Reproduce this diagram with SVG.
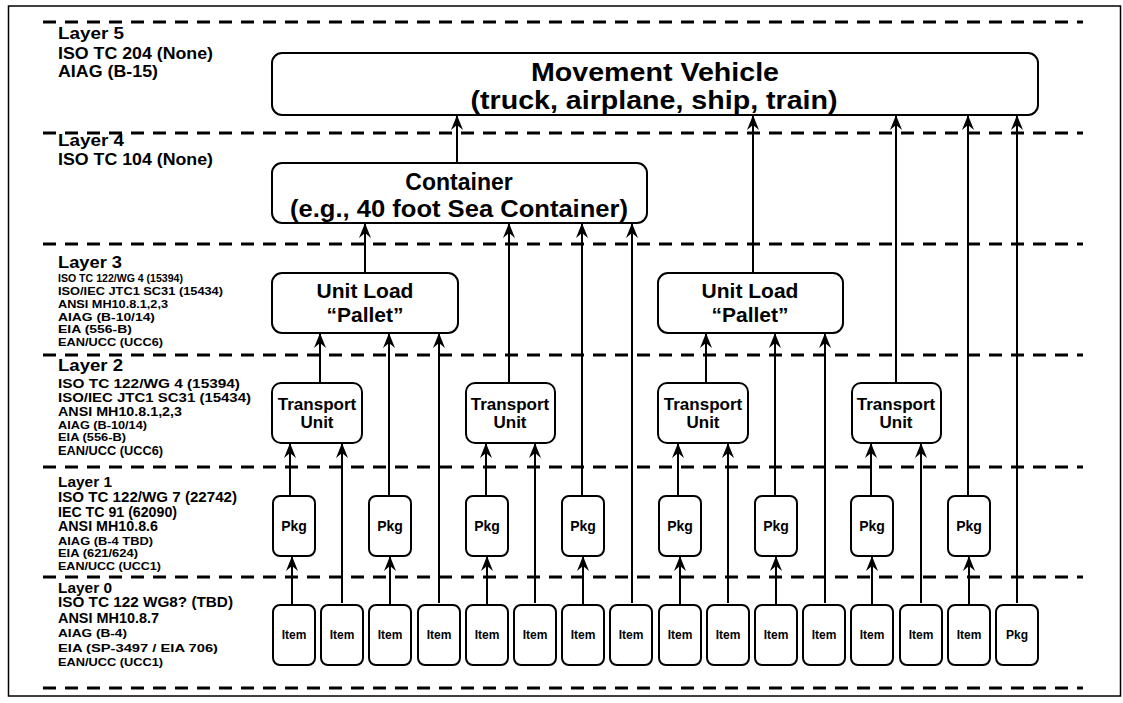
<svg xmlns="http://www.w3.org/2000/svg" width="1123" height="703" viewBox="0 0 1123 703">
<defs>
<marker id="ah" viewBox="-16 -7 17 14" refX="0" refY="0" markerWidth="17" markerHeight="14" markerUnits="userSpaceOnUse" orient="auto">
<path d="M0,0 L-15,-6 L-10,0 L-15,6 Z" fill="#000"/>
</marker>
<style>
text{font-family:"Liberation Sans",Arial,Helvetica,sans-serif;font-weight:bold;fill:#000}
.lbl{text-anchor:start}
.c{text-anchor:middle}
.box{fill:#fff;stroke:#000;stroke-width:2}
.dash{stroke:#000;stroke-width:3;stroke-dasharray:13 9;fill:none}
.con{stroke:#000;stroke-width:2;fill:none;marker-end:url(#ah)}
</style>
</defs>
<rect x="0" y="0" width="1123" height="703" fill="#fff"/>
<rect x="8.5" y="6" width="1112" height="690" fill="none" stroke="#000" stroke-width="1.5"/>

<g id="layer-lines">
<line class="dash" x1="43" y1="22" x2="1083" y2="22"/>
<line class="dash" x1="43" y1="133" x2="1083" y2="133"/>
<line class="dash" x1="43" y1="244" x2="1083" y2="244"/>
<line class="dash" x1="43" y1="355" x2="1083" y2="355"/>
<line class="dash" x1="43" y1="467" x2="1083" y2="467"/>
<line class="dash" x1="43" y1="577" x2="1083" y2="577"/>
<line class="dash" x1="43" y1="688" x2="1083" y2="688"/>
</g>

<g id="layer-labels" class="lbl">
<text x="58" y="39" font-size="17" textLength="66" lengthAdjust="spacingAndGlyphs">Layer 5</text>
<text x="58" y="59" font-size="17" textLength="155" lengthAdjust="spacingAndGlyphs">ISO TC 204 (None)</text>
<text x="58" y="77" font-size="17" textLength="100" lengthAdjust="spacingAndGlyphs">AIAG (B-15)</text>

<text x="58" y="146" font-size="17" textLength="66" lengthAdjust="spacingAndGlyphs">Layer 4</text>
<text x="58" y="165" font-size="17" textLength="155" lengthAdjust="spacingAndGlyphs">ISO TC 104 (None)</text>

<text x="58" y="268" font-size="17" textLength="64" lengthAdjust="spacingAndGlyphs">Layer 3</text>
<text x="58" y="282" font-size="11" textLength="125" lengthAdjust="spacingAndGlyphs">ISO TC 122/WG 4 (15394)</text>
<text x="58" y="295" font-size="11" textLength="165" lengthAdjust="spacingAndGlyphs">ISO/IEC JTC1 SC31 (15434)</text>
<text x="58" y="308" font-size="11" textLength="110" lengthAdjust="spacingAndGlyphs">ANSI MH10.8.1,2,3</text>
<text x="58" y="321" font-size="11" textLength="97" lengthAdjust="spacingAndGlyphs">AIAG (B-10/14)</text>
<text x="58" y="333" font-size="11" textLength="74" lengthAdjust="spacingAndGlyphs">EIA (556-B)</text>
<text x="58" y="346" font-size="11" textLength="105" lengthAdjust="spacingAndGlyphs">EAN/UCC (UCC6)</text>

<text x="58" y="371" font-size="17" textLength="65" lengthAdjust="spacingAndGlyphs">Layer 2</text>
<text x="58" y="388" font-size="13" textLength="182" lengthAdjust="spacingAndGlyphs">ISO TC 122/WG 4 (15394)</text>
<text x="58" y="402" font-size="13" textLength="193" lengthAdjust="spacingAndGlyphs">ISO/IEC JTC1 SC31 (15434)</text>
<text x="58" y="416" font-size="13" textLength="124" lengthAdjust="spacingAndGlyphs">ANSI MH10.8.1,2,3</text>
<text x="58" y="429" font-size="11" textLength="89" lengthAdjust="spacingAndGlyphs">AIAG (B-10/14)</text>
<text x="58" y="441" font-size="11" textLength="68" lengthAdjust="spacingAndGlyphs">EIA (556-B)</text>
<text x="58" y="455" font-size="12" textLength="105" lengthAdjust="spacingAndGlyphs">EAN/UCC (UCC6)</text>

<text x="58" y="487" font-size="15" textLength="54" lengthAdjust="spacingAndGlyphs">Layer 1</text>
<text x="58" y="502" font-size="14" textLength="179" lengthAdjust="spacingAndGlyphs">ISO TC 122/WG 7 (22742)</text>
<text x="58" y="517" font-size="14" textLength="119" lengthAdjust="spacingAndGlyphs">IEC TC 91 (62090)</text>
<text x="58" y="531" font-size="14" textLength="100" lengthAdjust="spacingAndGlyphs">ANSI MH10.8.6</text>
<text x="58" y="545" font-size="11" textLength="95" lengthAdjust="spacingAndGlyphs">AIAG (B-4 TBD)</text>
<text x="58" y="557" font-size="11" textLength="80" lengthAdjust="spacingAndGlyphs">EIA (621/624)</text>
<text x="58" y="570" font-size="11.5" textLength="103" lengthAdjust="spacingAndGlyphs">EAN/UCC (UCC1)</text>

<text x="58" y="593" font-size="15" textLength="54" lengthAdjust="spacingAndGlyphs">Layer 0</text>
<text x="58" y="607" font-size="14" textLength="175" lengthAdjust="spacingAndGlyphs">ISO TC 122 WG8? (TBD)</text>
<text x="58" y="623" font-size="14" textLength="101" lengthAdjust="spacingAndGlyphs">ANSI MH10.8.7</text>
<text x="58" y="637" font-size="11" textLength="69" lengthAdjust="spacingAndGlyphs">AIAG (B-4)</text>
<text x="58" y="652" font-size="11.5" textLength="160" lengthAdjust="spacingAndGlyphs">EIA (SP-3497 / EIA 706)</text>
<text x="58" y="666" font-size="11.5" textLength="105" lengthAdjust="spacingAndGlyphs">EAN/UCC (UCC1)</text>
</g>

<g id="connectors">
<line class="con" x1="457" y1="163" x2="457" y2="115"/>
<line class="con" x1="365" y1="273" x2="365" y2="223"/>
<line class="con" x1="753" y1="273" x2="753" y2="115"/>
<line class="con" x1="320" y1="383" x2="320" y2="333"/>
<line class="con" x1="509" y1="383" x2="509" y2="223"/>
<line class="con" x1="706" y1="383" x2="706" y2="333"/>
<line class="con" x1="896" y1="383" x2="896" y2="115"/>
<line class="con" x1="290" y1="496" x2="290" y2="443"/>
<line class="con" x1="389" y1="496" x2="389" y2="333"/>
<line class="con" x1="486" y1="496" x2="486" y2="443"/>
<line class="con" x1="582" y1="496" x2="582" y2="223"/>
<line class="con" x1="678" y1="496" x2="678" y2="443"/>
<line class="con" x1="775" y1="496" x2="775" y2="333"/>
<line class="con" x1="871" y1="496" x2="871" y2="443"/>
<line class="con" x1="968" y1="496" x2="968" y2="115"/>
<line class="con" x1="342" y1="603" x2="342" y2="443"/>
<line class="con" x1="439" y1="603" x2="439" y2="333"/>
<line class="con" x1="535" y1="603" x2="535" y2="443"/>
<line class="con" x1="632" y1="603" x2="632" y2="223"/>
<line class="con" x1="728" y1="603" x2="728" y2="443"/>
<line class="con" x1="825" y1="603" x2="825" y2="333"/>
<line class="con" x1="921" y1="603" x2="921" y2="443"/>
<line class="con" x1="1017" y1="603" x2="1017" y2="115"/>
<line class="con" x1="292" y1="605" x2="292" y2="556"/>
<line class="con" x1="390" y1="605" x2="390" y2="556"/>
<line class="con" x1="487" y1="605" x2="487" y2="556"/>
<line class="con" x1="583" y1="605" x2="583" y2="556"/>
<line class="con" x1="680" y1="605" x2="680" y2="556"/>
<line class="con" x1="776" y1="605" x2="776" y2="556"/>
<line class="con" x1="872" y1="605" x2="872" y2="556"/>
<line class="con" x1="969" y1="605" x2="969" y2="556"/>
</g>

<g id="movement-vehicle">
<rect class="box" x="272" y="53" width="766" height="62" rx="10"/>
<text class="c" x="655" y="81" font-size="26" textLength="248" lengthAdjust="spacingAndGlyphs">Movement Vehicle</text>
<text class="c" x="654" y="109" font-size="26" textLength="367" lengthAdjust="spacingAndGlyphs">(truck, airplane, ship, train)</text>
</g>

<g id="container">
<rect class="box" x="272" y="163" width="375" height="60" rx="10"/>
<text class="c" x="459" y="190" font-size="23">Container</text>
<text class="c" x="459" y="217" font-size="23" textLength="338" lengthAdjust="spacingAndGlyphs">(e.g., 40 foot Sea Container)</text>
</g>

<g id="unit-load-1">
<rect class="box" x="272" y="273" width="186" height="60" rx="10"/>
<text class="c" x="365" y="298" font-size="21">Unit Load</text>
<text class="c" x="365" y="322" font-size="21">“Pallet”</text>
</g>
<g id="unit-load-2">
<rect class="box" x="658" y="273" width="185" height="60" rx="10"/>
<text class="c" x="750" y="298" font-size="21">Unit Load</text>
<text class="c" x="750" y="322" font-size="21">“Pallet”</text>
</g>

<g id="transport-unit-1">
<rect class="box" x="272" y="383" width="90" height="60" rx="9"/>
<text class="c" x="317" y="410" font-size="17">Transport</text>
<text class="c" x="317" y="428" font-size="17">Unit</text>
</g>
<g id="transport-unit-2">
<rect class="box" x="466" y="383" width="89" height="60" rx="9"/>
<text class="c" x="510" y="410" font-size="17">Transport</text>
<text class="c" x="510" y="428" font-size="17">Unit</text>
</g>
<g id="transport-unit-3">
<rect class="box" x="658" y="383" width="90" height="60" rx="9"/>
<text class="c" x="703" y="410" font-size="17">Transport</text>
<text class="c" x="703" y="428" font-size="17">Unit</text>
</g>
<g id="transport-unit-4">
<rect class="box" x="852" y="383" width="89" height="60" rx="9"/>
<text class="c" x="896" y="410" font-size="17">Transport</text>
<text class="c" x="896" y="428" font-size="17">Unit</text>
</g>

<g id="pkg-1"><rect class="box" x="273" y="496" width="42" height="60" rx="7"/><text class="c" x="294" y="531" font-size="14">Pkg</text></g>
<g id="pkg-2"><rect class="box" x="369" y="496" width="42" height="60" rx="7"/><text class="c" x="390" y="531" font-size="14">Pkg</text></g>
<g id="pkg-3"><rect class="box" x="466" y="496" width="42" height="60" rx="7"/><text class="c" x="487" y="531" font-size="14">Pkg</text></g>
<g id="pkg-4"><rect class="box" x="562" y="496" width="42" height="60" rx="7"/><text class="c" x="583" y="531" font-size="14">Pkg</text></g>
<g id="pkg-5"><rect class="box" x="659" y="496" width="42" height="60" rx="7"/><text class="c" x="680" y="531" font-size="14">Pkg</text></g>
<g id="pkg-6"><rect class="box" x="755" y="496" width="42" height="60" rx="7"/><text class="c" x="776" y="531" font-size="14">Pkg</text></g>
<g id="pkg-7"><rect class="box" x="851" y="496" width="42" height="60" rx="7"/><text class="c" x="872" y="531" font-size="14">Pkg</text></g>
<g id="pkg-8"><rect class="box" x="948" y="496" width="42" height="60" rx="7"/><text class="c" x="969" y="531" font-size="14">Pkg</text></g>

<g id="item-1"><rect class="box" x="273" y="605" width="42" height="60" rx="7"/><text class="c" x="294" y="639" font-size="12">Item</text></g>
<g id="item-2"><rect class="box" x="321" y="605" width="42" height="60" rx="7"/><text class="c" x="342" y="639" font-size="12">Item</text></g>
<g id="item-3"><rect class="box" x="369" y="605" width="42" height="60" rx="7"/><text class="c" x="390" y="639" font-size="12">Item</text></g>
<g id="item-4"><rect class="box" x="418" y="605" width="42" height="60" rx="7"/><text class="c" x="439" y="639" font-size="12">Item</text></g>
<g id="item-5"><rect class="box" x="466" y="605" width="42" height="60" rx="7"/><text class="c" x="487" y="639" font-size="12">Item</text></g>
<g id="item-6"><rect class="box" x="514" y="605" width="42" height="60" rx="7"/><text class="c" x="535" y="639" font-size="12">Item</text></g>
<g id="item-7"><rect class="box" x="562" y="605" width="42" height="60" rx="7"/><text class="c" x="583" y="639" font-size="12">Item</text></g>
<g id="item-8"><rect class="box" x="610" y="605" width="42" height="60" rx="7"/><text class="c" x="631" y="639" font-size="12">Item</text></g>
<g id="item-9"><rect class="box" x="659" y="605" width="42" height="60" rx="7"/><text class="c" x="680" y="639" font-size="12">Item</text></g>
<g id="item-10"><rect class="box" x="707" y="605" width="42" height="60" rx="7"/><text class="c" x="728" y="639" font-size="12">Item</text></g>
<g id="item-11"><rect class="box" x="755" y="605" width="42" height="60" rx="7"/><text class="c" x="776" y="639" font-size="12">Item</text></g>
<g id="item-12"><rect class="box" x="803" y="605" width="42" height="60" rx="7"/><text class="c" x="824" y="639" font-size="12">Item</text></g>
<g id="item-13"><rect class="box" x="851" y="605" width="42" height="60" rx="7"/><text class="c" x="872" y="639" font-size="12">Item</text></g>
<g id="item-14"><rect class="box" x="900" y="605" width="42" height="60" rx="7"/><text class="c" x="921" y="639" font-size="12">Item</text></g>
<g id="item-15"><rect class="box" x="948" y="605" width="42" height="60" rx="7"/><text class="c" x="969" y="639" font-size="12">Item</text></g>
<g id="pkg-9"><rect class="box" x="996" y="605" width="42" height="60" rx="7"/><text class="c" x="1017" y="639" font-size="12">Pkg</text></g>
</svg>
